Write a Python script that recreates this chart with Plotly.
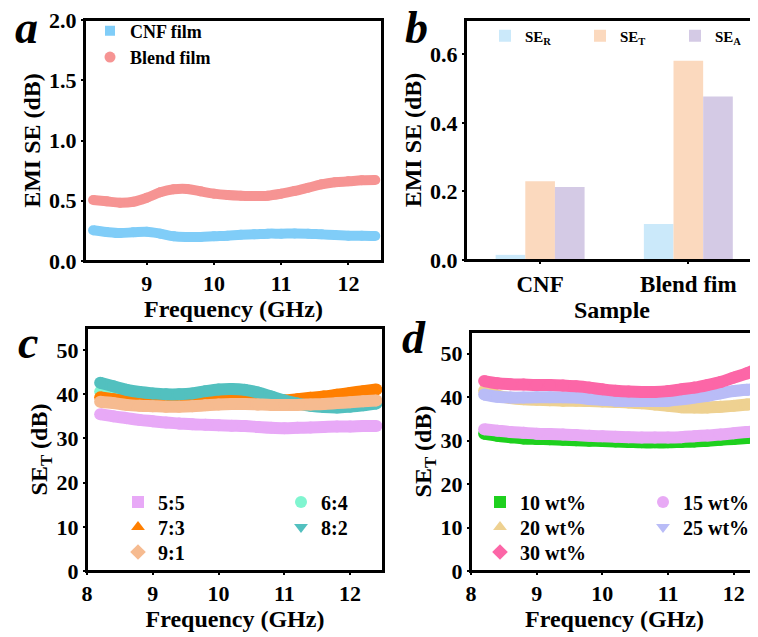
import plotly.graph_objects as go

# ---------------- data ----------------
FREQ = [8.2, 8.4, 8.6, 8.8, 9.0, 9.2, 9.4, 9.6, 9.8, 10.0, 10.2,
        10.4, 10.6, 10.8, 11.0, 11.2, 11.4, 11.6, 11.8, 12.0, 12.2, 12.4]

# panel a
CNF_FILM = [0.255, 0.241, 0.232, 0.238, 0.243, 0.227, 0.205, 0.199, 0.199, 0.205, 0.210,
            0.218, 0.221, 0.227, 0.227, 0.229, 0.227, 0.221, 0.216, 0.210, 0.210, 0.207]
BLEND_FILM = [0.506, 0.495, 0.484, 0.492, 0.525, 0.570, 0.595, 0.598, 0.578, 0.559, 0.548,
              0.542, 0.539, 0.542, 0.559, 0.581, 0.608, 0.636, 0.653, 0.661, 0.670, 0.672]

# panel b
SAMPLES = ["CNF", "Blend fim"]
SE_R = [0.015, 0.105]
SE_T = [0.230, 0.581]
SE_A = [0.213, 0.477]

# panel c
RATIO_5_5 = [35.5, 35.0, 34.6, 34.2, 33.9, 33.6, 33.4, 33.2, 33.1, 33.0, 32.9,
             32.8, 32.6, 32.4, 32.3, 32.4, 32.5, 32.6, 32.7, 32.7, 32.8, 32.8]
RATIO_6_4 = [40.6, 40.3, 40.0, 39.7, 39.5, 39.4, 39.4, 39.5, 39.7, 39.9, 40.0,
             39.9, 39.6, 39.1, 38.6, 38.2, 38.0, 37.9, 37.9, 38.0, 38.2, 38.5]
RATIO_7_3 = [39.3, 38.9, 38.6, 38.4, 38.3, 38.3, 38.3, 38.4, 38.5, 38.6, 38.7,
             38.7, 38.6, 38.6, 38.6, 38.9, 39.2, 39.5, 39.9, 40.3, 40.7, 41.1]
RATIO_8_2 = [42.6, 41.8, 41.0, 40.5, 40.2, 40.0, 40.0, 40.2, 40.7, 41.1, 41.2,
             41.0, 40.4, 39.5, 38.6, 37.9, 37.4, 37.1, 37.0, 37.2, 37.5, 37.9]
RATIO_9_1 = [38.3, 38.0, 37.6, 37.4, 37.3, 37.2, 37.2, 37.3, 37.5, 37.7, 37.8,
             37.8, 37.7, 37.6, 37.6, 37.6, 37.7, 37.8, 38.0, 38.2, 38.4, 38.6]
RATIO_LABELS = ["5:5", "6:4", "7:3", "8:2", "9:1"]

# panel d
WT_10 = [31.6, 31.1, 30.8, 30.5, 30.4, 30.3, 30.2, 30.1, 30.0, 29.9, 29.8,
         29.7, 29.6, 29.6, 29.6, 29.7, 29.8, 30.0, 30.2, 30.4, 30.6, 30.8]
WT_15 = [32.6, 32.3, 32.0, 31.8, 31.6, 31.5, 31.4, 31.3, 31.1, 31.0, 30.9,
         30.8, 30.7, 30.7, 30.7, 30.8, 31.0, 31.2, 31.4, 31.7, 32.0, 32.2]
WT_20 = [41.5, 40.4, 39.8, 39.5, 39.4, 39.3, 39.2, 39.2, 39.1, 39.0, 38.9,
         38.8, 38.6, 38.3, 38.0, 37.7, 37.6, 37.6, 37.8, 38.0, 38.3, 38.6]
WT_25 = [40.6, 40.1, 39.9, 39.9, 40.0, 40.0, 40.0, 39.9, 39.6, 39.4, 39.2,
         39.1, 39.1, 39.1, 39.2, 39.5, 39.9, 40.3, 40.9, 41.4, 41.7, 41.9]
WT_30 = [43.7, 43.2, 43.0, 42.9, 42.8, 42.8, 42.7, 42.5, 42.2, 41.8, 41.5,
         41.3, 41.2, 41.2, 41.4, 41.8, 42.2, 42.8, 43.5, 44.5, 45.5, 46.8]
WT_LABELS = ["10 wt%", "15 wt%", "20 wt%", "25 wt%", "30 wt%"]

# ---------------- styling ----------------
FONT = "Liberation Serif"
OFF = 8                      # page body margin
W, H = 758 - OFF, 637 - OFF
INK = "black"

def px_x(p):
    return (p - OFF) / W

def px_y(p):
    return 1 - (p - OFF) / H

# panel boxes in reference pixels: (left, right, top, bottom)
BOX_A = (85, 382, 20, 261)
BOX_B = (466, 758, 20, 260)
BOX_C = (87, 383, 328, 571)
BOX_D = (471, 758, 332, 571)
RX_A, RY_A = [8.08, 12.5], [0, 2.0]
RX_B, RY_B = [-0.5, 1.47], [0, 0.7]
RX_C, RY_C = [8, 12.5], [0, 55]
RX_D, RY_D = [8, 12.37], [0, 55]

fig = go.Figure()

def band(x, y, color, width, xa, ya):
    fig.add_trace(go.Scatter(
        x=x, y=y, mode="lines+markers", xaxis=xa, yaxis=ya, showlegend=False,
        line=dict(color=color, width=width, shape="spline", smoothing=1.0),
        marker=dict(color=color, size=width, symbol="circle", line=dict(width=0)),
        hoverinfo="skip"))

def legend_entry(name, color, symbol, legend, xa, ya, size=11):
    fig.add_trace(go.Scatter(
        x=[None], y=[None], mode="markers", name=name, legend=legend,
        xaxis=xa, yaxis=ya,
        marker=dict(color=color, symbol=symbol, size=size, line=dict(width=0))))

# panel a
C_CNF = "#80cdf8"
C_BLEND = "#f69493"
band(FREQ, CNF_FILM, C_CNF, 10, "x", "y")
band(FREQ, BLEND_FILM, C_BLEND, 10, "x", "y")
legend_entry("CNF film", C_CNF, "square", "legend", "x", "y", 10)
legend_entry("Blend film", C_BLEND, "circle", "legend", "x", "y", 11)

# panel b
bar_x = list(range(len(SAMPLES)))
for name, vals, col in [("SE<sub>R</sub>", SE_R, "#cbe9fa"),
                        ("SE<sub>T</sub>", SE_T, "#fbd9be"),
                        ("SE<sub>A</sub>", SE_A, "#d4cae5")]:
    fig.add_trace(go.Bar(x=bar_x, y=vals, name=name, marker=dict(color=col, line=dict(width=0)),
                         xaxis="x2", yaxis="y2", legend="legend2"))

# panel c
C_RATIO = ["#e8a9f7", "#80f5d0", "#ff7f00", "#52c0bf", "#f6bb90"]
S_RATIO = ["square", "circle", "triangle-up", "triangle-down", "diamond"]
for vals, col in zip([RATIO_5_5, RATIO_6_4, RATIO_7_3, RATIO_8_2, RATIO_9_1], C_RATIO):
    band(FREQ, vals, col, 12, "x3", "y3")
ROW_C = ["legend3", "legend3", "legend4", "legend4", "legend5"]
for i in range(5):
    legend_entry(RATIO_LABELS[i], C_RATIO[i], S_RATIO[i], ROW_C[i], "x3", "y3", 12)

# panel d
C_WT = ["#1ed01e", "#e8aaf5", "#eed191", "#b9bcf7", "#fc66a7"]
S_WT = ["square", "circle", "triangle-up", "triangle-down", "diamond"]
for vals, col in zip([WT_10, WT_15, WT_20, WT_25, WT_30], C_WT):
    band(FREQ, vals, col, 12, "x4", "y4")
ROW_D = ["legend6", "legend6", "legend7", "legend7", "legend8"]
for i in range(5):
    legend_entry(WT_LABELS[i], C_WT[i], S_WT[i], ROW_D[i], "x4", "y4", 12)

# ---- frames and ticks drawn as line traces along each axis range ----
def steps(lo, hi, step):
    out, v = [], lo
    while v <= hi + 1e-9:
        out.append(round(v, 4))
        v += step
    return out

def frame_and_ticks(xa, ya, box, rx, ry, right, xmaj, xmin, ymaj, ymin):
    l, r, t, b = box
    dx = (rx[1] - rx[0]) / (r - l)      # data units per pixel
    dy = (ry[1] - ry[0]) / (b - t)
    if right:
        fx = [rx[0], rx[1], rx[1], rx[0], rx[0]]
        fy = [ry[0], ry[0], ry[1], ry[1], ry[0]]
    else:
        fx = [rx[1], rx[0], rx[0], rx[1]]
        fy = [ry[1], ry[1], ry[0], ry[0]]
    fig.add_trace(go.Scatter(x=fx, y=fy, mode="lines", xaxis=xa, yaxis=ya,
                             showlegend=False, hoverinfo="skip", cliponaxis=False,
                             line=dict(color=INK, width=2)))
    for vals, length, width in [(xmaj, 5, 2), (xmin, 3, 1.5)]:
        tx, ty = [], []
        for v in vals:
            tx += [v, v, None]
            ty += [ry[0], ry[0] - length * dy, None]
        fig.add_trace(go.Scatter(x=tx, y=ty, mode="lines", xaxis=xa, yaxis=ya,
                                 showlegend=False, hoverinfo="skip", cliponaxis=False,
                                 line=dict(color=INK, width=width)))
    for vals, length, width in [(ymaj, 5, 2), (ymin, 3, 1.5)]:
        tx, ty = [], []
        for v in vals:
            tx += [rx[0], rx[0] - length * dx, None]
            ty += [v, v, None]
        fig.add_trace(go.Scatter(x=tx, y=ty, mode="lines", xaxis=xa, yaxis=ya,
                                 showlegend=False, hoverinfo="skip", cliponaxis=False,
                                 line=dict(color=INK, width=width)))

frame_and_ticks("x", "y", BOX_A, RX_A, RY_A, True,
                steps(9, 12, 1), steps(8.5, 12.5, 1), steps(0, 2.0, 0.5), steps(0.25, 1.75, 0.5))
frame_and_ticks("x2", "y2", BOX_B, RX_B, RY_B, False,
                bar_x, [0.5], steps(0, 0.6, 0.2), steps(0.1, 0.7, 0.2))
frame_and_ticks("x3", "y3", BOX_C, RX_C, RY_C, True,
                steps(8, 12, 1), steps(8.5, 12.5, 1), steps(0, 50, 10), steps(5, 55, 10))
frame_and_ticks("x4", "y4", BOX_D, RX_D, RY_D, False,
                steps(8, 12, 1), steps(8.5, 11.5, 1), steps(0, 50, 10), steps(5, 55, 10))

TICKFONT = dict(family=FONT, size=22, color="black", weight="bold")
TITLEFONT = dict(family=FONT, size=24, color="black", weight="bold")

def axis(box, horizontal, rng, dtick, mirror=True, **kw):
    l, r, t, b = box
    domain = [px_x(l), min(1.0, px_x(r))] if horizontal else [px_y(b), px_y(t)]
    d = dict(domain=domain, range=rng, showline=True, linecolor=INK, linewidth=2,
             mirror=mirror, ticks="outside", ticklen=2, tickwidth=2, tickcolor=INK,
             showgrid=False, zeroline=False, tickfont=TICKFONT, automargin=False,
             ticklabeloverflow="allow", dtick=dtick)
    d.update(kw)
    return d

fig.update_layout(
    width=W, height=H, margin=dict(l=0, r=0, t=0, b=0, autoexpand=False),
    paper_bgcolor="white", plot_bgcolor="white",
    font=dict(family=FONT, color="black", weight="bold"),
    barmode="group", bargap=0.4, bargroupgap=0,
    xaxis=axis(BOX_A, True, RX_A, 1, anchor="y", tick0=8,
               title=dict(text="Frequency (GHz)", font=TITLEFONT, standoff=4)),
    yaxis=axis(BOX_A, False, RY_A, 0.5, anchor="x", tickformat=".1f",
               title=dict(text="EMI SE (dB)", font=TITLEFONT, standoff=2)),
    xaxis2=axis(BOX_B, True, RX_B, 1, anchor="y2",
                tickvals=bar_x, ticktext=SAMPLES,
                tickfont=dict(family=FONT, size=23, color="black", weight="bold"),
                title=dict(text="Sample", font=TITLEFONT, standoff=4)),
    yaxis2=axis(BOX_B, False, RY_B, 0.2, mirror=False, anchor="x2", tickformat=".1f",
                title=dict(text="EMI SE (dB)", font=TITLEFONT, standoff=2)),
    xaxis3=axis(BOX_C, True, RX_C, 1, anchor="y3", tick0=8,
                title=dict(text="Frequency (GHz)", font=TITLEFONT, standoff=1)),
    yaxis3=axis(BOX_C, False, RY_C, 10, anchor="x3",
                title=dict(text="SE<sub>T</sub> (dB)", font=TITLEFONT, standoff=2)),
    xaxis4=axis(BOX_D, True, RX_D, 1, anchor="y4", tick0=8,
                title=dict(text="Frequency (GHz)", font=TITLEFONT, standoff=1)),
    yaxis4=axis(BOX_D, False, RY_D, 10, mirror=False, anchor="x4",
                title=dict(text="SE<sub>T</sub> (dB)", font=TITLEFONT, standoff=2)),
)

LEG = dict(bgcolor="rgba(0,0,0,0)", borderwidth=0, xanchor="left", yanchor="middle",
           tracegroupgap=0)
LEGFONT = dict(family=FONT, size=20, weight="bold")
fig.update_layout(
    legend=dict(LEG, x=px_x(90), y=px_y(44), font=dict(family=FONT, size=18, weight="bold")),
    legend2=dict(LEG, x=px_x(485), y=px_y(36), orientation="h",
                 entrywidth=50, font=dict(family=FONT, size=15, weight="bold")),
    legend3=dict(LEG, x=px_x(118), y=px_y(502), orientation="h", entrywidth=118, font=LEGFONT),
    legend4=dict(LEG, x=px_x(118), y=px_y(527), orientation="h", entrywidth=118, font=LEGFONT),
    legend5=dict(LEG, x=px_x(118), y=px_y(552), orientation="h", entrywidth=118, font=LEGFONT),
    legend6=dict(LEG, x=px_x(480), y=px_y(502), orientation="h", entrywidth=118, font=LEGFONT),
    legend7=dict(LEG, x=px_x(480), y=px_y(527), orientation="h", entrywidth=118, font=LEGFONT),
    legend8=dict(LEG, x=px_x(480), y=px_y(552), orientation="h", entrywidth=118, font=LEGFONT),
)

LETTER = dict(family=FONT, size=46, color="black", weight="bold", style="italic")
for txt, x, y in [("a", 26, 28), ("b", 416, 28), ("c", 28, 342), ("d", 414, 337)]:
    fig.add_annotation(text=txt, x=px_x(x), y=px_y(y), xref="paper", yref="paper",
                       showarrow=False, font=LETTER, xanchor="center", yanchor="middle")

fig.write_html("out.html")
